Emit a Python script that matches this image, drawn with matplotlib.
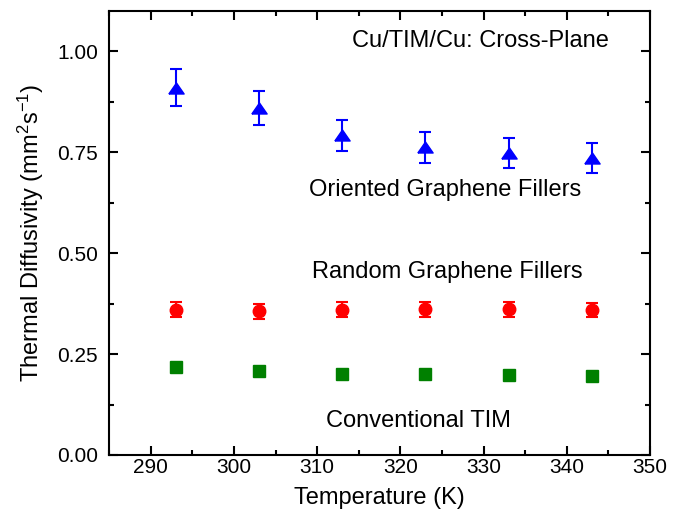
import numpy as np
import matplotlib
matplotlib.use("Agg")
import matplotlib.pyplot as plt
from matplotlib.ticker import MultipleLocator

plt.rcParams['font.family'] = ['Liberation Sans', 'DejaVu Sans']
plt.rcParams['mathtext.default'] = 'regular'

# data
temp = [293, 303, 313, 323, 333, 343]

oriented     = [0.910, 0.859, 0.792, 0.762, 0.748, 0.736]
oriented_err = [0.046, 0.042, 0.039, 0.039, 0.038, 0.037]

random_     = [0.360, 0.356, 0.360, 0.361, 0.361, 0.359]
random_err  = [0.018, 0.018, 0.018, 0.019, 0.019, 0.018]

conv     = [0.219, 0.209, 0.201, 0.201, 0.198, 0.196]
conv_err = [0.004, 0.004, 0.004, 0.004, 0.004, 0.004]

tri = [(-1, -0.72), (1, -0.72), (0, 0.72), (-1, -0.72)]

fig = plt.figure(figsize=(6.73, 5.24), dpi=100)
ax = fig.add_axes([0.162, 0.1317, 0.804, 0.8473])

ax.errorbar(temp, oriented, yerr=oriented_err, fmt='none', ecolor='#0000ff',
            elinewidth=1.5, capsize=4.5, capthick=1.5)
ax.plot(temp, oriented, ls='none', marker=tri, ms=11, color='#0000ff', mec='#0000ff')

ax.errorbar(temp, random_, yerr=random_err, fmt='o', color='#ff0000', ms=9,
            elinewidth=1.5, capsize=4, capthick=1.5)

ax.errorbar(temp, conv, yerr=conv_err, fmt='s', color='#008000', ms=8,
            elinewidth=1.5, capsize=3, capthick=1.5)

fs = 17
ax.text(345.1, 1.012, 'Cu/TIM/Cu: Cross-Plane', fontsize=fs, ha='right', va='baseline')
ax.text(325.4, 0.641, 'Oriented Graphene Fillers', fontsize=fs, ha='center', va='baseline')
ax.text(325.6, 0.438, 'Random Graphene Fillers', fontsize=fs, ha='center', va='baseline')
ax.text(322.2, 0.069, 'Conventional TIM', fontsize=fs, ha='center', va='baseline')

ax.set_xlim(285, 350)
ax.set_ylim(0, 1.1)
ax.xaxis.set_major_locator(MultipleLocator(10))
ax.xaxis.set_minor_locator(MultipleLocator(5))
ax.yaxis.set_major_locator(MultipleLocator(0.25))
ax.yaxis.set_minor_locator(MultipleLocator(0.125))
ax.yaxis.set_major_formatter(matplotlib.ticker.FormatStrFormatter('%.2f'))

ax.tick_params(which='both', direction='in', top=True, right=True, width=1.5,
               labelsize=15)
ax.tick_params(axis='y', pad=8)
ax.tick_params(axis='x', pad=2.5)
ax.tick_params(which='major', length=6.5)
ax.tick_params(which='minor', length=3.5)
for s in ax.spines.values():
    s.set_linewidth(1.5)

ax.set_xlabel('Temperature (K)', fontsize=fs, labelpad=7)
ax.set_ylabel('Thermal Diffusivity (mm$^2$s$^{-1}$)', fontsize=fs, labelpad=8)

fig.savefig('out.png', dpi=100)
